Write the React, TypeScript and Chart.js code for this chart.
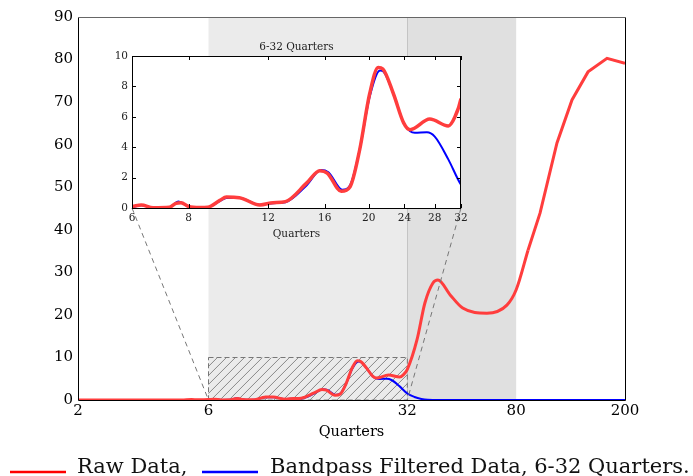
import React, { useEffect, useRef } from "react";
import { Chart, registerables } from "chart.js";

Chart.register(...registerables);

// ---- data ----
const rawSmoothX = [2, 2.5, 3, 4, 4.8, 5.2, 5.5, 6, 6.29, 6.68, 7.26, 7.5, 7.7, 8.0, 8.47, 8.82, 9.38, 9.7, 10.36, 11.5, 12.3, 13.1, 14.6, 15.6, 16.2, 17.4, 18.2, 19.1, 20.1, 21.0, 21.5, 22.7, 23.9, 24.7, 27.3, 30.0, 31.0, 32.0, 34.7, 37.1, 39.7, 41.4, 45.9, 51, 62.5, 74, 80, 88.4];
const rawSmoothY = [0, 0, 0, 0, 0.02, 0.12, 0.05, 0.1, 0.2, 0.02, 0.05, 0.3, 0.35, 0.1, 0.03, 0.05, 0.5, 0.72, 0.68, 0.2, 0.35, 0.42, 1.65, 2.45, 2.3, 1.1, 1.4, 3.8, 7.5, 9.25, 9.15, 7.5, 5.6, 5.15, 5.85, 5.4, 5.97, 7.2, 14.1, 22.8, 27.5, 28.2, 24.7, 21.6, 20.4, 22.3, 25.9, 35.2];
const rawTailX = [88.4, 97.8, 112.8, 128, 146.5, 171.9, 200];
const rawTailY = [35.2, 43.9, 60.4, 70.5, 77.1, 80.3, 79.1];
const bandX = [6, 6.29, 6.68, 7.26, 7.6, 8.0, 8.47, 8.82, 9.38, 9.7, 10.36, 11.5, 12.3, 13.1, 14.6, 15.7, 16.3, 17.5, 18.2, 19.1, 20.1, 21.2, 21.6, 22.7, 23.9, 24.7, 25.3, 26.9, 28.0, 30, 32, 34, 36, 38, 42, 60, 100, 200];
const bandY = [0.05, 0.18, 0.02, 0.05, 0.42, 0.1, 0.02, 0.05, 0.45, 0.65, 0.66, 0.22, 0.32, 0.38, 1.5, 2.5, 2.35, 1.2, 1.5, 3.8, 7.3, 9.05, 8.95, 7.5, 5.6, 5.05, 4.95, 4.98, 4.7, 3.2, 1.53, 0.7, 0.25, 0.05, 0, 0, 0, 0];

const mainXTicks = [2, 6, 32, 80, 200];
const mainYTicks = [0, 10, 20, 30, 40, 50, 60, 70, 80, 90];
const insetXTicks = [6, 8, 12, 16, 20, 24, 28, 32];
const insetYTicks = [0, 2, 4, 6, 8, 10];

const bandLow = 6;
const bandHigh = 32;
const shadeHigh = 80;
const hatchTop = 10;

const legendLabels = ["Raw Data,", "Bandpass Filtered Data, 6-32 Quarters."];
const mainTitle = "Quarters";
const insetTitle = "6-32 Quarters";

// ---- style ----
const FONT = "DejaVu Serif";
const RED = "#ff3d3d";
const BLUE = "#0000ff";
const W = 693;
const H = 476;
const INSET_LEFT = 90;
const INSET_TOP = 30;
const INSET_W = 390;
const INSET_H = 215;

const pts = (xs: number[], ys: number[]) => xs.map((x, i) => ({ x, y: ys[i] }));
const setTicks = (values: number[]) => (scale: any) => {
  scale.ticks = values.map((v) => ({ value: v }));
};

export default function App() {
  const mainRef = useRef<HTMLCanvasElement>(null);
  const insetRef = useRef<HTMLCanvasElement>(null);

  useEffect(() => {
    document.body.style.margin = "0";
    if (!mainRef.current || !insetRef.current) return;

    const insetDecor = {
      id: "insetDecor",
      beforeDraw(chart: any) {
        const { ctx, chartArea: a } = chart;
        ctx.save();
        ctx.fillStyle = "#ffffff";
        ctx.fillRect(a.left, a.top, a.right - a.left, a.bottom - a.top);
        ctx.restore();
      },
      afterDatasetsDraw(chart: any) {
        const { ctx, chartArea: a, scales } = chart;
        ctx.save();
        ctx.strokeStyle = "#000";
        ctx.lineWidth = 1;
        ctx.strokeRect(a.left + 0.5, a.top + 0.5, a.right - a.left - 1, a.bottom - a.top);
        ctx.beginPath();
        insetXTicks.forEach((v) => {
          const x = Math.round(scales.x.getPixelForValue(v)) + 0.5;
          ctx.moveTo(x, a.bottom);
          ctx.lineTo(x, a.bottom - 4);
          ctx.moveTo(x, a.top);
          ctx.lineTo(x, a.top + 4);
        });
        insetYTicks.forEach((v) => {
          const y = Math.round(scales.y.getPixelForValue(v)) + 0.5;
          ctx.moveTo(a.left, y);
          ctx.lineTo(a.left + 4, y);
          ctx.moveTo(a.right, y);
          ctx.lineTo(a.right - 4, y);
        });
        ctx.stroke();
        ctx.fillStyle = "#222";
        ctx.font = `10.5px "${FONT}"`;
        ctx.textAlign = "center";
        ctx.textBaseline = "middle";
        ctx.fillText(insetTitle, (a.left + a.right) / 2, a.top - 9);
        ctx.restore();
      },
    };

    const inset = new Chart(insetRef.current, {
      type: "line",
      data: {
        datasets: [
          { data: pts(rawSmoothX, rawSmoothY), borderColor: RED, borderWidth: 3.5, pointRadius: 0, cubicInterpolationMode: "monotone", clip: 0 } as any,
          { data: pts(bandX, bandY), borderColor: BLUE, borderWidth: 2, pointRadius: 0, cubicInterpolationMode: "monotone", clip: 0 } as any,
        ],
      },
      options: {
        responsive: false,
        animation: false,
        events: [],
        layout: { padding: { left: 0, right: 19, top: 26, bottom: 0 } },
        plugins: { legend: { display: false }, tooltip: { enabled: false } },
        scales: {
          x: {
            type: "logarithmic",
            min: bandLow,
            max: bandHigh,
            afterBuildTicks: setTicks(insetXTicks),
            afterFit: (s: any) => { s.height = 37; },
            ticks: { font: { family: FONT, size: 10.5 }, color: "#222", padding: 4, autoSkip: false, maxRotation: 0, callback: (v: any) => String(v) },
            grid: { display: false, drawTicks: false },
            border: { display: false },
            title: { display: true, text: mainTitle, font: { family: FONT, size: 10.5 }, color: "#222", padding: { top: 0, bottom: 4 } },
          },
          y: {
            type: "linear",
            min: 0,
            max: 10,
            afterBuildTicks: setTicks(insetYTicks),
            afterFit: (s: any) => { s.width = 42; },
            ticks: { font: { family: FONT, size: 10.5 }, color: "#222", padding: 4, autoSkip: false, callback: (v: any) => String(v) },
            grid: { display: false, drawTicks: false },
            border: { display: false },
          },
        },
      } as any,
      plugins: [insetDecor],
    });

    const mainDecor = {
      id: "mainDecor",
      beforeDatasetsDraw(chart: any) {
        const { ctx, chartArea: a, scales } = chart;
        const xs = scales.x;
        const ys = scales.y;
        const x6 = xs.getPixelForValue(bandLow);
        const x32 = xs.getPixelForValue(bandHigh);
        const x80 = xs.getPixelForValue(shadeHigh);
        const y0 = ys.getPixelForValue(0);
        const y10 = ys.getPixelForValue(hatchTop);
        ctx.save();
        ctx.fillStyle = "#ebebeb";
        ctx.fillRect(x6, a.top, x32 - x6, a.bottom - a.top);
        ctx.fillStyle = "#e0e0e0";
        ctx.fillRect(x32, a.top, x80 - x32, a.bottom - a.top);
        ctx.strokeStyle = "#c4c4c4";
        ctx.lineWidth = 1;
        ctx.beginPath();
        ctx.moveTo(Math.round(x32) + 0.5, a.top);
        ctx.lineTo(Math.round(x32) + 0.5, a.bottom);
        ctx.stroke();
        // hatch
        ctx.save();
        ctx.beginPath();
        ctx.rect(x6, y10, x32 - x6, y0 - y10);
        ctx.clip();
        ctx.strokeStyle = "#6f6f6f";
        ctx.lineWidth = 0.8;
        ctx.beginPath();
        const hh = y0 - y10;
        for (let x = x6 - hh; x < x32 + hh; x += 9) {
          ctx.moveTo(x, y0);
          ctx.lineTo(x + hh, y10);
        }
        ctx.stroke();
        ctx.restore();
        ctx.strokeStyle = "#777";
        ctx.setLineDash([5, 3]);
        ctx.lineWidth = 1;
        ctx.strokeRect(Math.round(x6) + 0.5, Math.round(y10) + 0.5, x32 - x6, y0 - y10);
        ctx.restore();
      },
      afterDatasetsDraw(chart: any) {
        const { ctx, chartArea: a, scales } = chart;
        ctx.save();
        ctx.strokeStyle = "#000";
        ctx.lineWidth = 1;
        ctx.beginPath();
        ctx.moveTo(a.left + 0.5, a.top);
        ctx.lineTo(a.left + 0.5, a.bottom + 0.5);
        ctx.lineTo(a.right + 0.5, a.bottom + 0.5);
        ctx.lineTo(a.right + 0.5, a.top);
        ctx.stroke();
        ctx.strokeStyle = "#666";
        ctx.beginPath();
        ctx.moveTo(a.left, a.top + 0.5);
        ctx.lineTo(a.right + 1, a.top + 0.5);
        ctx.stroke();
        // connectors to inset
        const ia = inset.chartArea;
        ctx.strokeStyle = "#777";
        ctx.setLineDash([5, 4]);
        ctx.beginPath();
        ctx.moveTo(INSET_LEFT + ia.left, INSET_TOP + ia.bottom);
        ctx.lineTo(scales.x.getPixelForValue(bandLow), scales.y.getPixelForValue(0));
        ctx.moveTo(INSET_LEFT + ia.right, INSET_TOP + ia.bottom);
        ctx.lineTo(scales.x.getPixelForValue(bandHigh), scales.y.getPixelForValue(0));
        ctx.stroke();
        ctx.restore();
      },
      afterDraw(chart: any) {
        const { ctx } = chart;
        ctx.save();
        ctx.setLineDash([]);
        ctx.lineWidth = 2.5;
        ctx.strokeStyle = "#ff0000";
        ctx.beginPath();
        ctx.moveTo(10, 472);
        ctx.lineTo(66, 472);
        ctx.stroke();
        ctx.strokeStyle = BLUE;
        ctx.beginPath();
        ctx.moveTo(202, 472);
        ctx.lineTo(258, 472);
        ctx.stroke();
        ctx.fillStyle = "#111";
        ctx.font = `21px "${FONT}"`;
        ctx.textAlign = "left";
        ctx.textBaseline = "alphabetic";
        ctx.fillText(legendLabels[0], 77, 473);
        ctx.fillText(legendLabels[1], 270, 473);
        ctx.restore();
      },
    };

    const main = new Chart(mainRef.current, {
      type: "line",
      data: {
        datasets: [
          { data: pts(rawSmoothX, rawSmoothY), borderColor: RED, borderWidth: 3, pointRadius: 0, cubicInterpolationMode: "monotone", clip: 0 } as any,
          { data: pts(rawTailX, rawTailY), borderColor: RED, borderWidth: 3, pointRadius: 0, tension: 0, clip: 0 } as any,
          { data: pts(bandX, bandY), borderColor: BLUE, borderWidth: 2, pointRadius: 0, cubicInterpolationMode: "monotone", clip: 0 } as any,
        ],
      },
      options: {
        responsive: false,
        animation: false,
        events: [],
        layout: { padding: { left: 0, right: 68, top: 17, bottom: 0 } },
        plugins: { legend: { display: false }, tooltip: { enabled: false } },
        scales: {
          x: {
            type: "logarithmic",
            min: 2,
            max: 200,
            afterBuildTicks: setTicks(mainXTicks),
            afterFit: (s: any) => { s.height = 76; },
            ticks: { font: { family: FONT, size: 15 }, color: "#000", padding: 2, autoSkip: false, maxRotation: 0, callback: (v: any) => String(v) },
            grid: { display: false, drawTicks: false },
            border: { display: false },
            title: { display: true, text: mainTitle, font: { family: FONT, size: 14.5 }, color: "#000", padding: { top: 0, bottom: 35 } },
          },
          y: {
            type: "linear",
            min: 0,
            max: 90,
            afterBuildTicks: setTicks(mainYTicks),
            afterFit: (s: any) => { s.width = 78; },
            ticks: { font: { family: FONT, size: 15 }, color: "#000", padding: 5, autoSkip: false, callback: (v: any) => String(v) },
            grid: { display: false, drawTicks: false },
            border: { display: false },
          },
        },
      } as any,
      plugins: [mainDecor],
    });

    return () => {
      main.destroy();
      inset.destroy();
    };
  }, []);

  return (
    <div style={{ position: "relative", width: W, height: H, background: "#fff", overflow: "hidden" }}>
      <canvas ref={mainRef} width={W} height={H} style={{ position: "absolute", left: 0, top: 0 }} />
      <canvas ref={insetRef} width={INSET_W} height={INSET_H} style={{ position: "absolute", left: INSET_LEFT, top: INSET_TOP }} />
    </div>
  );
}
